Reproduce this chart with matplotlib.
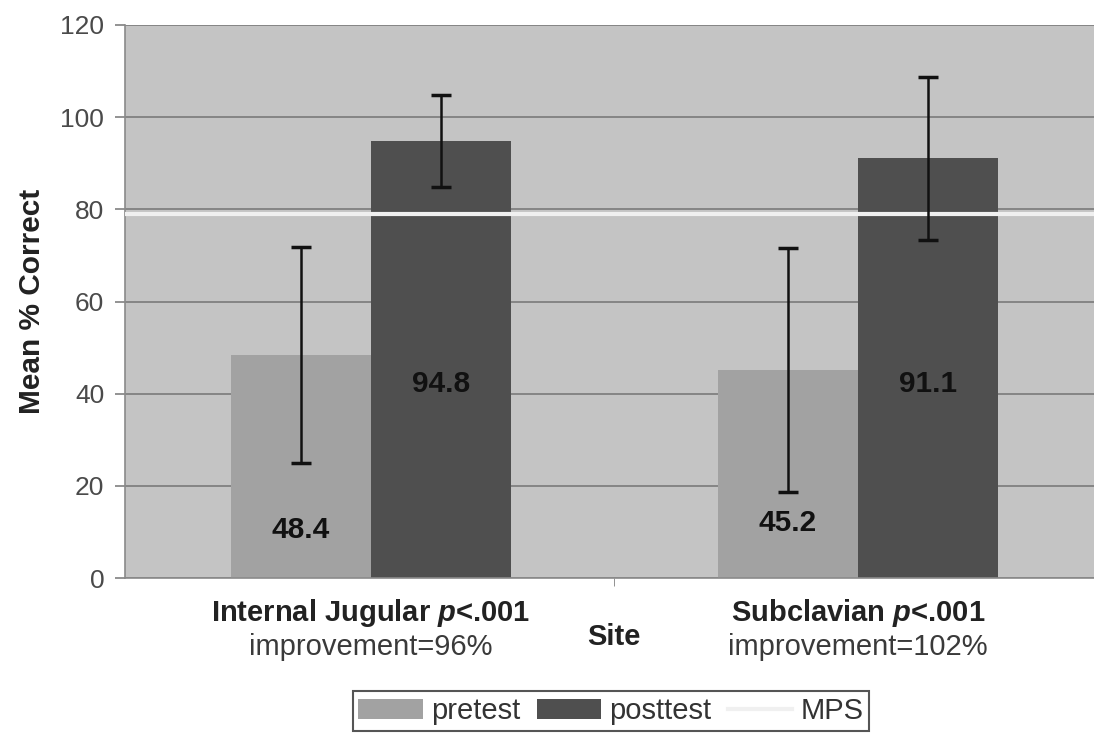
import matplotlib.pyplot as plt
import matplotlib as mpl
import numpy as np

# Data
sites = ['Internal Jugular', 'Subclavian']
improvement = ['improvement=96%', 'improvement=102%']
pretest = [48.4, 45.2]
posttest = [94.8, 91.1]
pre_err = [23.4, 26.5]
post_err = [10.0, 17.7]
mps = 79

mpl.rcParams['font.family'] = ['Liberation Sans', 'DejaVu Sans']
mpl.rcParams['mathtext.fontset'] = 'custom'
mpl.rcParams['mathtext.it'] = 'Liberation Sans:italic:bold'
mpl.rcParams['mathtext.rm'] = 'Liberation Sans:bold'

fig = plt.figure(figsize=(10.94, 7.40), dpi=100)
ax = fig.add_axes([125 / 1094, 1 - 578 / 740, 969 / 1094, 553 / 740])
ax.set_facecolor('#c4c4c4')

x = np.arange(len(sites))
w = 0.287
b1 = ax.bar(x - w / 2, pretest, w, color='#a2a2a2', zorder=2, label='pretest')
b2 = ax.bar(x + w / 2, posttest, w, color='#4f4f4f', zorder=2, label='posttest')
ln = ax.axhline(mps, color='#f0f0f0', lw=3, zorder=3, label='MPS')
ax.errorbar(x - w / 2, pretest, yerr=pre_err, fmt='none', ecolor='#111111',
            elinewidth=1.8, capsize=7, capthick=2.5, zorder=4)
ax.errorbar(x + w / 2, posttest, yerr=post_err, fmt='none', ecolor='#111111',
            elinewidth=1.8, capsize=7, capthick=2.5, zorder=4)

# value labels inside bars
for i in range(len(sites)):
    ax.text(x[i] - w / 2, [10.4, 12.0][i], f'{pretest[i]}', ha='center', va='center',
            fontsize=21.5, fontweight='bold', color='#111111', zorder=5)
    ax.text(x[i] + w / 2, 42, f'{posttest[i]}', ha='center', va='center',
            fontsize=21.5, fontweight='bold', color='#111111', zorder=5)

ax.set_xlim(-0.505, 1.485)
ax.set_ylim(0, 120)
ax.set_yticks(np.arange(0, 121, 20))
ax.yaxis.grid(True, color='#7a7a7a', lw=1.2, zorder=1)
ax.set_axisbelow(True)
ax.tick_params(axis='y', labelsize=19, labelcolor='#4a4a4a', color='#808080',
               length=7, width=1.2, pad=8)
ax.set_xticks([])
ax.set_xticks([0.5], minor=True)
ax.tick_params(axis='x', which='minor', length=6, color='#808080', labelbottom=False)
for s in ['top', 'right']:
    ax.spines[s].set_visible(False)
for s in ['left', 'bottom']:
    ax.spines[s].set_color('#8a8a8a')
    ax.spines[s].set_linewidth(1.2)

ax.set_ylabel('Mean % Correct', fontsize=21.5, fontweight='bold', color='#222222', labelpad=10)

# category labels
for i in range(len(sites)):
    ax.text(x[i], -7.6, sites[i] + ' $p$<.001', ha='center', va='center',
            fontsize=21, fontweight='bold', color='#222222', clip_on=False)
    ax.text(x[i], -14.9, improvement[i], ha='center', va='center',
            fontsize=21, color='#3a3a3a', clip_on=False)
ax.text(0.5, -12.8, 'Site', ha='center', va='center', fontsize=21,
        fontweight='bold', color='#222222', clip_on=False)

leg = fig.legend([b1, b2, ln], ['pretest', 'posttest', 'MPS'], loc='center',
                 bbox_to_anchor=(611 / 1094, 1 - 711 / 740), ncol=3,
                 fontsize=21, frameon=True, fancybox=False, edgecolor='#555555',
                 handlelength=2.2, handletextpad=0.3, columnspacing=0.55,
                 borderpad=0.2, framealpha=1)
leg.get_frame().set_linewidth(1.5)
for t in leg.get_texts():
    t.set_color('#333333')

fig.savefig('out.png', dpi=100)
